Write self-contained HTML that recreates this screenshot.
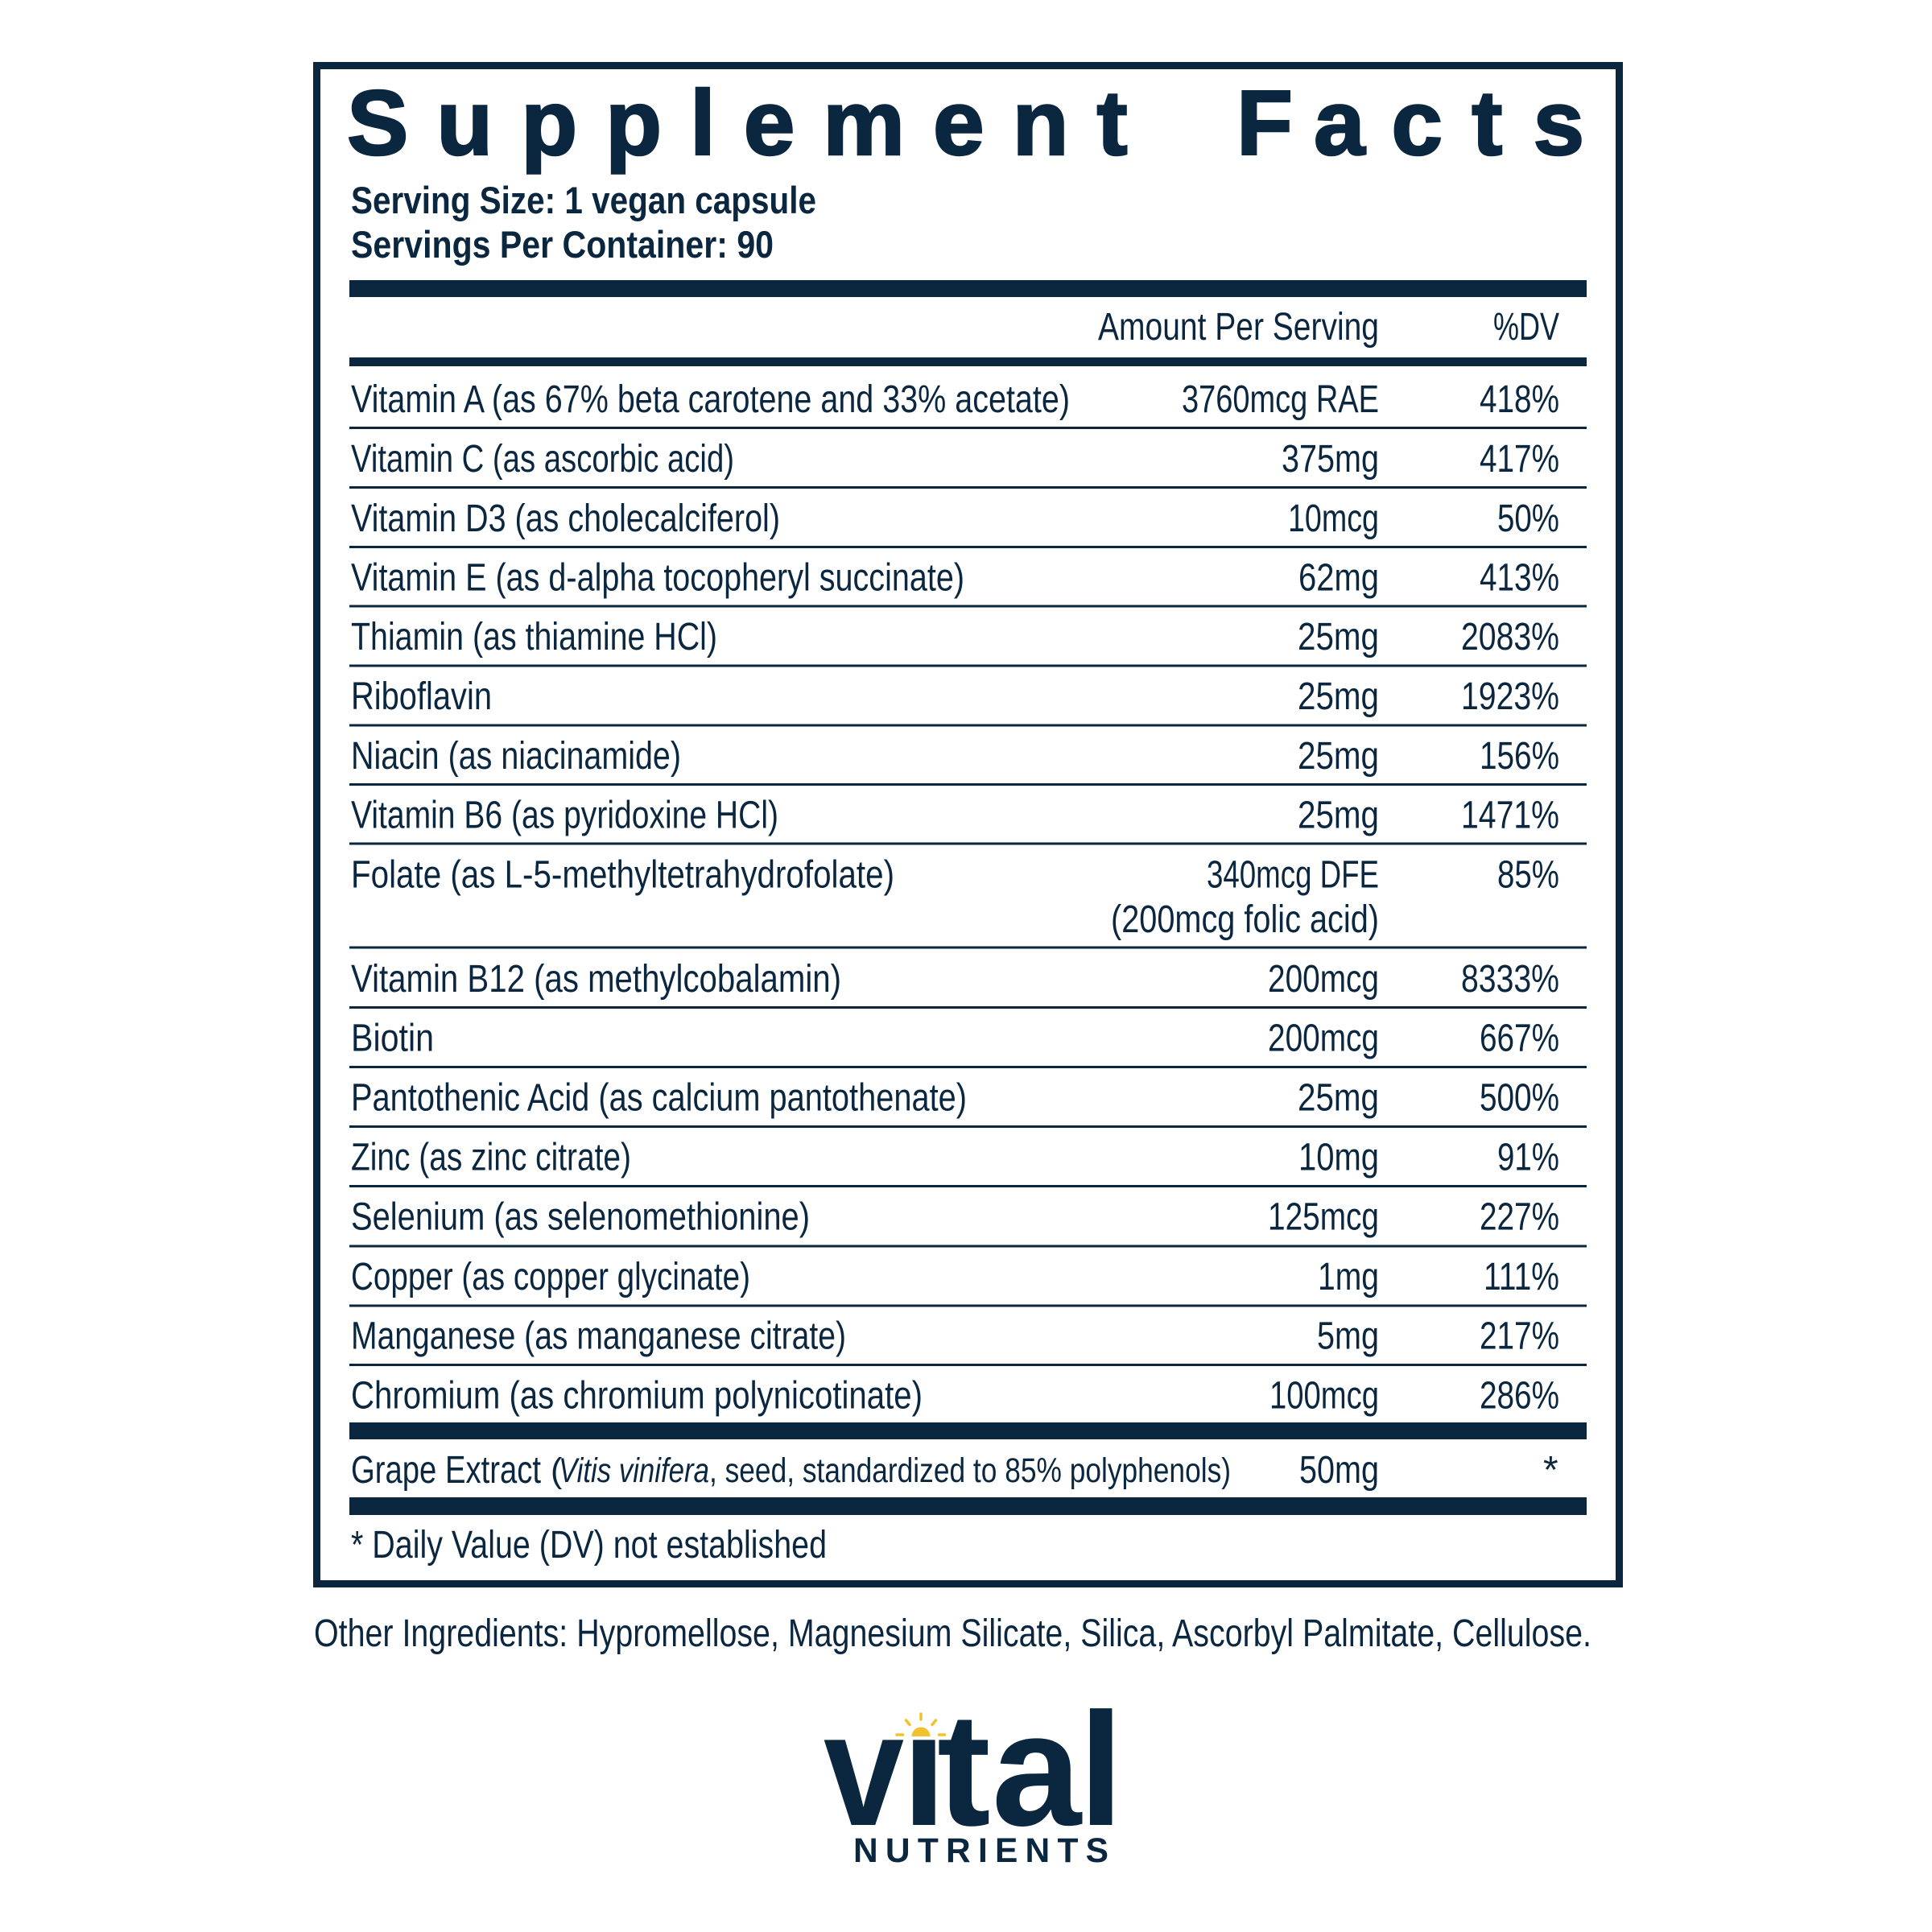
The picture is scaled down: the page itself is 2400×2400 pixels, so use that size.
<!DOCTYPE html>
<html>
<head>
<meta charset="utf-8">
<style>
  html, body { margin:0; padding:0; background:#ffffff; }
  svg { display:block; }
  text { font-family: "Liberation Sans", "DejaVu Sans", sans-serif; fill:#0b2740; }
  .b { font-size:48px; }
  .s { font-size:43px; }
  .sb { font-size:47px; font-weight:bold; }
  .t { font-size:114.5px; font-weight:bold; stroke:#0b2740; stroke-width:2.5px; }
</style>
</head>
<body>
<svg width="2400" height="2400" viewBox="0 0 2400 2400" xmlns="http://www.w3.org/2000/svg">
  <rect x="0" y="0" width="2400" height="2400" fill="#ffffff"/>

  <!-- Outer box -->
  <rect x="393.5" y="81.5" width="1618" height="1886" fill="none" stroke="#0b2740" stroke-width="9"/>

  <!-- Title -->
  <text class="t" x="431 542.3 647.2 752.1 857 923.7 1022.3 1159 1257.6 1362.5" y="192">Supplement</text>
  <text class="t" x="1536 1632 1728.4 1828.3 1904.5" y="192">Facts</text>

  <!-- Serving info -->
  <text class="sb" x="436" y="265" textLength="578" lengthAdjust="spacingAndGlyphs">Serving Size: 1 vegan capsule</text>
  <text class="sb" x="436" y="320" textLength="525" lengthAdjust="spacingAndGlyphs">Servings Per Container: 90</text>

  <!-- Bars -->
  <rect x="434" y="348" width="1537" height="21" fill="#0b2740"/>
  <rect x="434" y="444" width="1537" height="11" fill="#0b2740"/>
  <rect x="434" y="1767" width="1537" height="21" fill="#0b2740"/>
  <rect x="434" y="1860" width="1537" height="22" fill="#0b2740"/>

  <!-- Header -->
  <text class="b" x="1364" y="422" textLength="349" lengthAdjust="spacingAndGlyphs">Amount Per Serving</text>
  <text class="b" x="1855" y="422" textLength="82" lengthAdjust="spacingAndGlyphs">%DV</text>

  <!-- Thin row lines -->
  <g fill="#0b2740">
    <rect x="434" y="530" width="1537" height="3"/>
    <rect x="434" y="604" width="1537" height="3"/>
    <rect x="434" y="678" width="1537" height="3"/>
    <rect x="434" y="751.5" width="1537" height="3"/>
    <rect x="434" y="825.5" width="1537" height="3"/>
    <rect x="434" y="899.5" width="1537" height="3"/>
    <rect x="434" y="973" width="1537" height="3"/>
    <rect x="434" y="1046.5" width="1537" height="3"/>
    <rect x="434" y="1175.5" width="1537" height="3"/>
    <rect x="434" y="1250" width="1537" height="3"/>
    <rect x="434" y="1324" width="1537" height="3"/>
    <rect x="434" y="1398" width="1537" height="3"/>
    <rect x="434" y="1472" width="1537" height="3"/>
    <rect x="434" y="1546.5" width="1537" height="3"/>
    <rect x="434" y="1620.5" width="1537" height="3"/>
    <rect x="434" y="1694" width="1537" height="3"/>
  </g>

  <!-- Rows -->
  <!-- 1 -->
  <text class="b" x="436" y="512" textLength="893" lengthAdjust="spacingAndGlyphs">Vitamin A (as 67% beta carotene and 33% acetate)</text>
  <text class="b" x="1468" y="512" textLength="245" lengthAdjust="spacingAndGlyphs">3760mcg RAE</text>
  <text class="b" x="1838" y="512" textLength="99" lengthAdjust="spacingAndGlyphs">418%</text>
  <!-- 2 -->
  <text class="b" x="436" y="586" textLength="476" lengthAdjust="spacingAndGlyphs">Vitamin C (as ascorbic acid)</text>
  <text class="b" x="1592" y="586" textLength="121" lengthAdjust="spacingAndGlyphs">375mg</text>
  <text class="b" x="1838" y="586" textLength="99" lengthAdjust="spacingAndGlyphs">417%</text>
  <!-- 3 -->
  <text class="b" x="436" y="660" textLength="533" lengthAdjust="spacingAndGlyphs">Vitamin D3 (as cholecalciferol)</text>
  <text class="b" x="1600" y="660" textLength="113" lengthAdjust="spacingAndGlyphs">10mcg</text>
  <text class="b" x="1860" y="660" textLength="77" lengthAdjust="spacingAndGlyphs">50%</text>
  <!-- 4 -->
  <text class="b" x="436" y="733.5" textLength="762" lengthAdjust="spacingAndGlyphs">Vitamin E (as d-alpha tocopheryl succinate)</text>
  <text class="b" x="1613" y="733.5" textLength="100" lengthAdjust="spacingAndGlyphs">62mg</text>
  <text class="b" x="1838" y="733.5" textLength="99" lengthAdjust="spacingAndGlyphs">413%</text>
  <!-- 5 -->
  <text class="b" x="436" y="807" textLength="455" lengthAdjust="spacingAndGlyphs">Thiamin (as thiamine HCl)</text>
  <text class="b" x="1612" y="807" textLength="101" lengthAdjust="spacingAndGlyphs">25mg</text>
  <text class="b" x="1815" y="807" textLength="122" lengthAdjust="spacingAndGlyphs">2083%</text>
  <!-- 6 -->
  <text class="b" x="436" y="881" textLength="175" lengthAdjust="spacingAndGlyphs">Riboflavin</text>
  <text class="b" x="1612" y="881" textLength="101" lengthAdjust="spacingAndGlyphs">25mg</text>
  <text class="b" x="1815" y="881" textLength="122" lengthAdjust="spacingAndGlyphs">1923%</text>
  <!-- 7 -->
  <text class="b" x="436" y="955" textLength="410" lengthAdjust="spacingAndGlyphs">Niacin (as niacinamide)</text>
  <text class="b" x="1612" y="955" textLength="101" lengthAdjust="spacingAndGlyphs">25mg</text>
  <text class="b" x="1838" y="955" textLength="99" lengthAdjust="spacingAndGlyphs">156%</text>
  <!-- 8 -->
  <text class="b" x="436" y="1028.5" textLength="531" lengthAdjust="spacingAndGlyphs">Vitamin B6 (as pyridoxine HCl)</text>
  <text class="b" x="1612" y="1028.5" textLength="101" lengthAdjust="spacingAndGlyphs">25mg</text>
  <text class="b" x="1815" y="1028.5" textLength="122" lengthAdjust="spacingAndGlyphs">1471%</text>
  <!-- 9 Folate -->
  <text class="b" x="436" y="1102.5" textLength="675" lengthAdjust="spacingAndGlyphs">Folate (as L-5-methyltetrahydrofolate)</text>
  <text class="b" x="1499" y="1102.5" textLength="214" lengthAdjust="spacingAndGlyphs">340mcg DFE</text>
  <text class="b" x="1380" y="1158" textLength="333" lengthAdjust="spacingAndGlyphs">(200mcg folic acid)</text>
  <text class="b" x="1860" y="1102.5" textLength="77" lengthAdjust="spacingAndGlyphs">85%</text>
  <!-- 10 -->
  <text class="b" x="436" y="1232" textLength="609" lengthAdjust="spacingAndGlyphs">Vitamin B12 (as methylcobalamin)</text>
  <text class="b" x="1575" y="1232" textLength="138" lengthAdjust="spacingAndGlyphs">200mcg</text>
  <text class="b" x="1815" y="1232" textLength="122" lengthAdjust="spacingAndGlyphs">8333%</text>
  <!-- 11 -->
  <text class="b" x="436" y="1305.5" textLength="103" lengthAdjust="spacingAndGlyphs">Biotin</text>
  <text class="b" x="1575" y="1305.5" textLength="138" lengthAdjust="spacingAndGlyphs">200mcg</text>
  <text class="b" x="1838" y="1305.5" textLength="99" lengthAdjust="spacingAndGlyphs">667%</text>
  <!-- 12 -->
  <text class="b" x="436" y="1379.5" textLength="765" lengthAdjust="spacingAndGlyphs">Pantothenic Acid (as calcium pantothenate)</text>
  <text class="b" x="1612" y="1379.5" textLength="101" lengthAdjust="spacingAndGlyphs">25mg</text>
  <text class="b" x="1838" y="1379.5" textLength="99" lengthAdjust="spacingAndGlyphs">500%</text>
  <!-- 13 -->
  <text class="b" x="436" y="1453.5" textLength="348" lengthAdjust="spacingAndGlyphs">Zinc (as zinc citrate)</text>
  <text class="b" x="1613" y="1453.5" textLength="100" lengthAdjust="spacingAndGlyphs">10mg</text>
  <text class="b" x="1860" y="1453.5" textLength="77" lengthAdjust="spacingAndGlyphs">91%</text>
  <!-- 14 -->
  <text class="b" x="436" y="1527.5" textLength="570" lengthAdjust="spacingAndGlyphs">Selenium (as selenomethionine)</text>
  <text class="b" x="1575" y="1527.5" textLength="138" lengthAdjust="spacingAndGlyphs">125mcg</text>
  <text class="b" x="1838" y="1527.5" textLength="99" lengthAdjust="spacingAndGlyphs">227%</text>
  <!-- 15 -->
  <text class="b" x="436" y="1602" textLength="496" lengthAdjust="spacingAndGlyphs">Copper (as copper glycinate)</text>
  <text class="b" x="1637" y="1602" textLength="76" lengthAdjust="spacingAndGlyphs">1mg</text>
  <text class="b" x="1843" y="1602" textLength="94" lengthAdjust="spacingAndGlyphs">111%</text>
  <!-- 16 -->
  <text class="b" x="436" y="1675.5" textLength="615" lengthAdjust="spacingAndGlyphs">Manganese (as manganese citrate)</text>
  <text class="b" x="1636" y="1675.5" textLength="77" lengthAdjust="spacingAndGlyphs">5mg</text>
  <text class="b" x="1838" y="1675.5" textLength="99" lengthAdjust="spacingAndGlyphs">217%</text>
  <!-- 17 -->
  <text class="b" x="436" y="1749.5" textLength="710" lengthAdjust="spacingAndGlyphs">Chromium (as chromium polynicotinate)</text>
  <text class="b" x="1577" y="1749.5" textLength="136" lengthAdjust="spacingAndGlyphs">100mcg</text>
  <text class="b" x="1838" y="1749.5" textLength="99" lengthAdjust="spacingAndGlyphs">286%</text>

  <!-- Grape row -->
  <text class="b" x="436" y="1842" textLength="236" lengthAdjust="spacingAndGlyphs">Grape Extract</text>
  <text class="s" x="684" y="1841">(</text>
  <text class="s" x="694" y="1841" font-style="italic" textLength="187" lengthAdjust="spacingAndGlyphs">Vitis vinifera</text>
  <text class="s" x="881" y="1841" textLength="648" lengthAdjust="spacingAndGlyphs">, seed, standardized to 85% polyphenols)</text>
  <text class="b" x="1614" y="1842" textLength="99" lengthAdjust="spacingAndGlyphs">50mg</text>
  <text class="b" x="1917" y="1842">*</text>

  <!-- Footnote -->
  <text class="b" x="436" y="1935" textLength="591" lengthAdjust="spacingAndGlyphs">* Daily Value (DV) not established</text>

  <!-- Other ingredients -->
  <text class="b" x="390" y="2045" textLength="1587" lengthAdjust="spacingAndGlyphs">Other Ingredients: Hypromellose, Magnesium Silicate, Silica, Ascorbyl Palmitate, Cellulose.</text>

  <!-- Logo -->
  <g>
    <text x="0" y="0" transform="translate(1023,2267) scale(0.9,1)" style="font-size:200px;font-weight:bold;">v</text>
    <text x="1120" y="2267" style="font-size:200px;font-weight:bold;">ı</text>
    <text x="1164" y="2267" style="font-size:200px;font-weight:bold;">t</text>
    <text x="1232" y="2267" style="font-size:200px;font-weight:bold;">a</text>
    <text x="1340" y="2267" style="font-size:200px;font-weight:bold;">l</text>
    <!-- sun -->
    <path d="M1132.5,2157 A11.5,11.5 0 0 1 1155.5,2157 Z" fill="#f2c12e"/>
    <g stroke="#f2c12e" stroke-width="3.5" stroke-linecap="round">
      <line x1="1144" y1="2129" x2="1144" y2="2136"/>
      <line x1="1125.5" y1="2137" x2="1130" y2="2142.5"/>
      <line x1="1162.5" y1="2137" x2="1158" y2="2142.5"/>
      <line x1="1114" y1="2155" x2="1121.5" y2="2155"/>
      <line x1="1166.5" y1="2155" x2="1173.5" y2="2155"/>
    </g>
    <text x="1060" y="2313" textLength="317" lengthAdjust="spacing" style="font-size:42.5px;font-weight:bold;">NUTRIENTS</text>
  </g>
</svg>
</body>
</html>
